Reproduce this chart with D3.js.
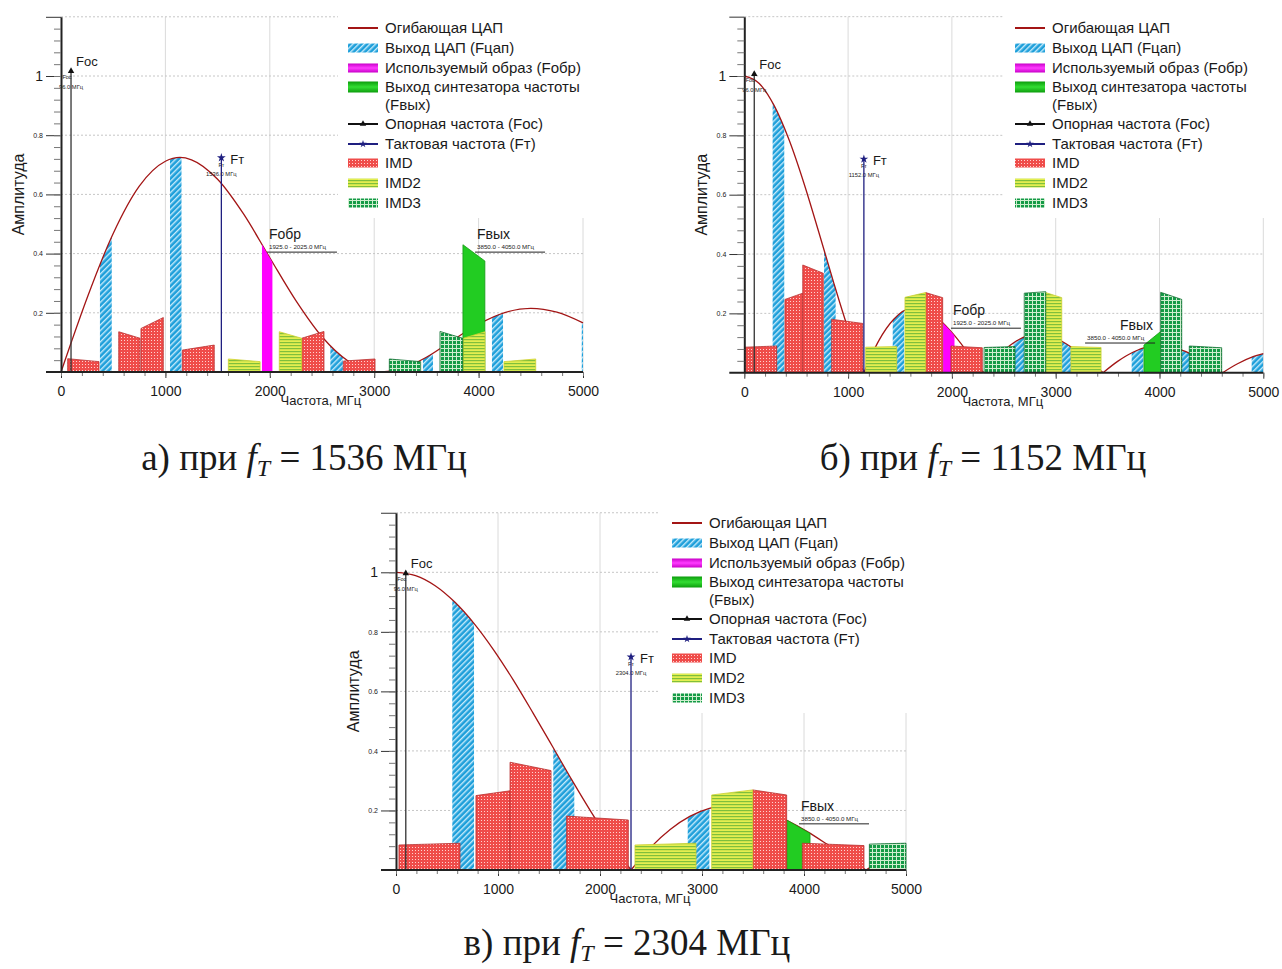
<!DOCTYPE html>
<html>
<head>
<meta charset="utf-8">
<script src="https://cdn.jsdelivr.net/npm/d3@7"></script>
<style>
body { margin: 0; background: #fff; }
svg { display: block; }
text { font-family: "Liberation Sans", Arial, sans-serif; fill: #1a1a1a; }
</style>
</head>
<body>
<svg id="chart" width="1282" height="969"></svg>
<script>
// ---- data (frequency in MHz, amplitude 0..1) ----
var xTicks = [0, 1000, 2000, 3000, 4000, 5000];
var yTicks = [0.2, 0.4, 0.6, 0.8, 1, 1.2];

var legendLabels = ["Огибающая ЦАП", "Выход ЦАП (Fцап)", "Используемый образ (Fобр)",
    "Выход синтезатора частоты|(Fвых)", "Опорная частота (Fос)", "Тактовая частота (Fт)",
    "IMD", "IMD2", "IMD3"];

var captionLetters = ["а)", "б)", "в)"];
var clockMHz = [1536, 1152, 2304];
var refMHz = 96;
var refLevel = [1.02, 1.01, 1.0];
var clockLevel = [0.724, 0.72, 0.716];

// DAC envelope, one array per lobe: [MHz, amplitude]
var envelopeA = [
    [[0, 0], [100, 0.102], [250, 0.250], [500, 0.468], [750, 0.628], [1000, 0.712], [1140, 0.725],
     [1250, 0.717], [1500, 0.651], [1750, 0.533], [2000, 0.386], [2250, 0.241], [2500, 0.119],
     [2750, 0.037], [2900, 0.010], [3072, 0]],
    [[3072, 0], [3250, 0.010], [3500, 0.050], [3750, 0.107], [4000, 0.162], [4250, 0.201],
     [4500, 0.215], [4750, 0.202], [5000, 0.166]]
];
var envelopeB = [
    [[0, 1], [144, 0.975], [288, 0.900], [432, 0.784], [576, 0.637], [720, 0.471], [864, 0.300], [1008, 0.139], [1152, 0]],
    [[1152, 0], [1296, 0.108], [1440, 0.180], [1584, 0.214], [1728, 0.212], [1872, 0.181], [2016, 0.129], [2160, 0.065], [2304, 0]],
    [[2304, 0], [2448, 0.057], [2592, 0.100], [2736, 0.124], [2880, 0.127], [3024, 0.112], [3168, 0.082], [3312, 0.042], [3456, 0]],
    [[3456, 0], [3600, 0.039], [3744, 0.069], [3888, 0.087], [4032, 0.091], [4176, 0.081], [4320, 0.060], [4464, 0.031], [4608, 0]],
    [[4608, 0], [4752, 0.030], [4896, 0.053], [5000, 0.064]]
];
var envelopeC = [
    [[0, 1], [192, 0.989], [384, 0.955], [576, 0.900], [768, 0.827], [960, 0.738], [1152, 0.637], [1344, 0.527],
     [1536, 0.414], [1728, 0.300], [1920, 0.191], [2112, 0.090], [2304, 0]],
    [[2304, 0], [2496, 0.076], [2688, 0.136], [2880, 0.180], [3072, 0.207], [3264, 0.217], [3456, 0.212],
     [3648, 0.194], [3840, 0.165], [4032, 0.129], [4224, 0.087], [4416, 0.043], [4608, 0]],
    [[4608, 0], [4800, 0.040], [5000, 0.075]]
];

// bands under the envelope: [from, to]
var dacA = [[373, 486], [1044, 1154], [2580, 2700], [3467, 3563], [4128, 4234], [4988, 5000]];
var dacB = [[273, 385], [768, 880], [1430, 1540], [2592, 2697], [3058, 3154], [3732, 3844], [4214, 4294], [4888, 5000]];
var dacC = [[552, 765], [1542, 1748], [2860, 3072]];
var imageA = [[1925, 2025]];
var imageB = [[1915, 2025]];
var imageC = [];

// blocks: [from, to, level at from, level at to]
var foutA = [[3850, 4060, 0.43, 0.375]];
var foutB = [[3850, 4050, 0.093, 0.15]];
var foutC = [[3830, 4059, 0.168, 0.123]];

var imdA = [[64, 364, 0.045, 0.035], [553, 757, 0.136, 0.114], [766, 980, 0.147, 0.184],
    [1162, 1468, 0.074, 0.091], [2305, 2519, 0.114, 0.137], [2704, 3008, 0.037, 0.044]];
var imd2A = [[1603, 1907, 0.044, 0.035], [2091, 2305, 0.136, 0.114], [3853, 4061, 0.114, 0.136], [4243, 4547, 0.035, 0.044]];
var imd3A = [[3145, 3445, 0.044, 0.035], [3630, 3848, 0.137, 0.114]];

var imdB = [[7, 312, 0.086, 0.09], [392, 563, 0.247, 0.268], [563, 761, 0.363, 0.335],
    [842, 1141, 0.18, 0.166], [1747, 1911, 0.27, 0.253], [1991, 2293, 0.09, 0.084]];
var imd2B = [[1169, 1468, 0.086, 0.088], [1548, 1747, 0.254, 0.27], [2904, 3058, 0.27, 0.253], [3147, 3437, 0.088, 0.085]];
var imd3B = [[2310, 2608, 0.085, 0.088], [2697, 2904, 0.268, 0.273], [4011, 4214, 0.271, 0.247], [4287, 4599, 0.09, 0.084]];

var imdC = [[29, 627, 0.084, 0.09], [784, 1118, 0.25, 0.266], [1118, 1520, 0.362, 0.334],
    [1673, 2278, 0.181, 0.168], [3497, 3830, 0.269, 0.252], [3984, 4588, 0.09, 0.082]];
var imd2C = [[2343, 2941, 0.084, 0.09], [3095, 3497, 0.252, 0.269]];
var imd3C = [[4641, 5000, 0.087, 0.09]];

// ---- layout ----
var panels = [
    {id: "a", x0: 61, x1: 583, base: 372, unit: 296, legend: [348, 28], box: [338, 0, 262, 218],
     env: envelopeA, dac: dacA, image: imageA, fout: foutA, imd: imdA, imd2: imd2A, imd3: imd3A,
     notes: [{t: "Fобр", r: "1925.0 - 2025.0 МГц", f: 1973, a: 0.405},
             {t: "Fвых", r: "3850.0 - 4050.0 МГц", f: 3966, a: 0.405}],
     caption: [304, 470]},
    {id: "b", x0: 744.3, x1: 1263.3, base: 372.7, unit: 296.7, legend: [1015, 28], box: [1003, 0, 279, 218],
     env: envelopeB, dac: dacB, image: imageB, fout: foutB, imd: imdB, imd2: imd2B, imd3: imd3B,
     notes: [{t: "Fобр", r: "1925.0 - 2025.0 МГц", f: 1991, a: 0.15},
             {t: "Fвых", r: "3850.0 - 4050.0 МГц", f: 3283, a: 0.10, end: true}],
     caption: [983, 470]},
    {id: "c", x0: 396, x1: 906, base: 870, unit: 297.7, legend: [672, 523], box: [658, 505, 257, 208],
     env: envelopeC, dac: dacC, image: imageC, fout: foutC, imd: imdC, imd2: imd2C, imd3: imd3C,
     notes: [{t: "Fвых", r: "3850.0 - 4050.0 МГц", f: 3951, a: 0.155}],
     caption: [627, 955]}
];

var svg = d3.select("#chart");
var defs = svg.append("defs");

// fills
function pattern(id, w, h, bg, parts, rot) {
    var p = defs.append("pattern").attr("id", id).attr("patternUnits", "userSpaceOnUse")
        .attr("width", w).attr("height", h);
    if (rot) p.attr("patternTransform", "rotate(" + rot + ")");
    p.append("rect").attr("width", w).attr("height", h).attr("fill", bg);
    parts.forEach(function (r) {
        p.append("rect").attr("x", r[0]).attr("y", r[1]).attr("width", r[2]).attr("height", r[3]).attr("fill", r[4]);
    });
}
pattern("pDac", 4, 4, "#1e9fda", [[0, 0, 1.4, 4, "#c6ebfb"]], 45);
pattern("pImd", 3, 3, "#ef4c4a", [[1, 1, 1, 1, "#ffd2d0"]]);
pattern("pImd2", 4, 3, "#e4ee50", [[0, 0, 4, 1.2, "#7fbf3c"]]);
pattern("pImd3", 4, 4, "#149a46", [[0, 0, 1, 4, "#cfeecf"], [0, 0, 4, 1, "#cfeecf"]]);

function grad(id, c1, c2) {
    var g = defs.append("linearGradient").attr("id", id).attr("x1", 0).attr("y1", 0).attr("x2", 0).attr("y2", 1);
    g.append("stop").attr("offset", "0%").attr("stop-color", c1);
    g.append("stop").attr("offset", "50%").attr("stop-color", c2);
    g.append("stop").attr("offset", "100%").attr("stop-color", c1);
}
grad("gImage", "#c800c8", "#ff3cff");
grad("gFout", "#0c9c0c", "#33dd33");

var envColor = "#a31515";
var clockColor = "#1f1f80";

function drawPanel(p, pi) {
    var g = svg.append("g");
    var x = d3.scaleLinear().domain([0, 5000]).range([p.x0, p.x1]);
    var y = d3.scaleLinear().domain([0, 1.2]).range([p.base, p.base - 1.2 * p.unit]);
    var top = y(1.2);

    // grid
    g.append("g").selectAll("line").data(xTicks.slice(1)).join("line")
        .attr("x1", x).attr("x2", x).attr("y1", p.base).attr("y2", top)
        .attr("stroke", "#dadada");
    g.append("g").selectAll("line").data(yTicks).join("line")
        .attr("x1", p.x0).attr("x2", p.x1).attr("y1", y).attr("y2", y)
        .attr("stroke", "#c6c6c6").attr("stroke-dasharray", "2,2");

    // legend background hides the grid
    g.append("rect").attr("x", p.box[0]).attr("y", p.box[1]).attr("width", p.box[2]).attr("height", p.box[3])
        .attr("fill", "#fff");

    var area = d3.area().x(function (d) { return x(d[0]); }).y0(y(0))
        .y1(function (d) { return y(d[1]); }).curve(d3.curveMonotoneX);
    var envLine = d3.line().x(function (d) { return x(d[0]); })
        .y(function (d) { return y(d[1]); }).curve(d3.curveMonotoneX);
    var blockLine = d3.line().x(function (d) { return x(d[0]); }).y(function (d) { return y(d[1]); });

    function bands(list, fill, name) {
        list.forEach(function (b, i) {
            var id = "clip-" + p.id + "-" + name + "-" + i;
            defs.append("clipPath").attr("id", id).append("rect")
                .attr("x", x(b[0])).attr("width", x(b[1]) - x(b[0]))
                .attr("y", top).attr("height", p.base - top);
            g.append("g").attr("clip-path", "url(#" + id + ")")
                .selectAll("path").data(p.env).join("path")
                .attr("d", area).attr("fill", fill);
        });
    }
    function blocks(list, fill, stroke) {
        g.append("g").selectAll("path").data(list).join("path")
            .attr("d", function (b) { return blockLine([[b[0], 0], [b[0], b[2]], [b[1], b[3]], [b[1], 0]]) + "Z"; })
            .attr("fill", fill).attr("stroke", stroke).attr("stroke-width", 0.8);
    }

    bands(p.dac, "url(#pDac)", "dac");
    g.append("g").selectAll("path").data(p.env).join("path")
        .attr("d", envLine).attr("fill", "none").attr("stroke", envColor).attr("stroke-width", 1.3);
    bands(p.image, "#ff00ff", "img");
    blocks(p.fout, "#22cc22", "#159a15");
    blocks(p.imd, "url(#pImd)", "#b83030");
    blocks(p.imd2, "url(#pImd2)", "#cdd030");
    blocks(p.imd3, "url(#pImd3)", "#0e6e30");

    // reference (Fос) and clock (Fт) markers
    var rx = x(refMHz), ry = y(refLevel[pi]);
    g.append("text").attr("x", rx - 4).attr("y", ry + 9).attr("text-anchor", "middle")
        .style("font-size", "5.5px").text("Fос");
    g.append("text").attr("x", rx).attr("y", ry + 19).attr("text-anchor", "middle")
        .style("font-size", "5.8px").text(refMHz.toFixed(1) + " МГц");
    g.append("line").attr("x1", rx).attr("x2", rx).attr("y1", y(0)).attr("y2", ry)
        .attr("stroke", "#333").attr("stroke-width", 1.3);
    g.append("path").attr("d", d3.symbol(d3.symbolTriangle, 18)()).attr("transform", "translate(" + rx + "," + (ry + 1) + ")")
        .attr("fill", "#111");
    g.append("text").attr("x", rx + 5).attr("y", ry - 4).style("font-size", "13px").text("Fос");

    var cx = x(clockMHz[pi]), cy = y(clockLevel[pi]);
    g.append("text").attr("x", cx).attr("y", cy + 9).attr("text-anchor", "middle")
        .style("font-size", "5.5px").text("Fт");
    g.append("text").attr("x", cx).attr("y", cy + 18).attr("text-anchor", "middle")
        .style("font-size", "5.8px").text(clockMHz[pi].toFixed(1) + " МГц");
    g.append("line").attr("x1", cx).attr("x2", cx).attr("y1", y(0)).attr("y2", cy)
        .attr("stroke", clockColor).attr("stroke-width", 1.3);
    g.append("path").attr("d", d3.symbol(d3.symbolStar, 24)()).attr("transform", "translate(" + cx + "," + cy + ")")
        .attr("fill", clockColor);
    g.append("text").attr("x", cx + 9).attr("y", cy + 6).style("font-size", "13px").text("Fт");

    // band annotations
    p.notes.forEach(function (n) {
        var nx = x(n.f), ny = y(n.a);
        g.append("line").attr("x1", nx).attr("x2", nx + 70).attr("y1", ny).attr("y2", ny)
            .attr("stroke", "#222").attr("stroke-width", 1);
        g.append("text").attr("x", nx + 2).attr("y", ny - 3).style("font-size", "6.2px").text(n.r);
        g.append("text").attr("x", n.end ? nx + 68 : nx + 2).attr("y", ny - 13)
            .attr("text-anchor", n.end ? "end" : "start").style("font-size", "14px").text(n.t);
    });

    // axes
    var yAxis = g.append("g").attr("transform", "translate(" + p.x0 + ",0)")
        .call(d3.axisLeft(y).tickValues(yTicks).tickSize(15).tickSizeOuter(0).tickPadding(3)
            .tickFormat(function (d) { return d === 1.2 ? "" : d3.format("~g")(d); }));
    yAxis.select(".domain").attr("stroke", "#222").attr("stroke-width", 2);
    yAxis.selectAll(".tick line").attr("stroke", "#333");
    yAxis.selectAll(".tick text").style("font-size", function (d) { return d === 1 ? "14px" : "7px"; })
        .attr("fill", "#1a1a1a");
    var yMinor = g.append("g").attr("transform", "translate(" + p.x0 + ",0)")
        .call(d3.axisLeft(y).tickValues(d3.range(0.04, 1.2, 0.04)).tickSize(7).tickFormat(""));
    yMinor.select(".domain").remove();
    yMinor.selectAll(".tick line").attr("stroke", "#777");

    var xAxis = g.append("g").attr("transform", "translate(0," + p.base + ")")
        .call(d3.axisBottom(x).tickValues(xTicks).tickSize(6).tickSizeOuter(0).tickPadding(8)
            .tickFormat(d3.format("d")));
    xAxis.select(".domain").remove();
    xAxis.selectAll(".tick line").attr("stroke", "#333");
    xAxis.selectAll(".tick text").style("font-size", "14px").attr("fill", "#1a1a1a");
    var xMinor = g.append("g").attr("transform", "translate(0," + p.base + ")")
        .call(d3.axisBottom(x).tickValues(x.ticks(25)).tickSize(4).tickFormat(""));
    xMinor.select(".domain").remove();
    xMinor.selectAll(".tick line").attr("stroke", "#777");
    g.append("line").attr("x1", p.x0 - 15).attr("x2", p.x1).attr("y1", p.base).attr("y2", p.base)
        .attr("stroke", "#222").attr("stroke-width", 2);

    g.append("text").attr("transform", "translate(" + (p.x0 - 37) + "," + (p.base - 0.6 * p.unit) + ") rotate(-90)")
        .attr("text-anchor", "middle").style("font-size", "16px").text("Амплитуда");
    g.append("text").attr("x", x(2490)).attr("y", p.base + 33).attr("text-anchor", "middle")
        .style("font-size", "13px").text("Частота, МГц");

    drawLegend(p.legend[0], p.legend[1]);

    // caption under the chart
    var cap = svg.append("text").attr("x", p.caption[0]).attr("y", p.caption[1]).attr("text-anchor", "middle")
        .style("font-family", "'Liberation Serif', 'Times New Roman', serif").style("font-size", "37px");
    cap.append("tspan").text(captionLetters[pi] + " при ");
    cap.append("tspan").attr("font-style", "italic").text("f");
    cap.append("tspan").attr("font-style", "italic").style("font-size", "24px").attr("dy", 6).text("T");
    cap.append("tspan").attr("dy", -6).text(" = " + clockMHz[pi] + " МГц");
}

var legendRows = [0, 20, 40, 59, 96, 116, 135, 155, 175];

function drawLegend(lx, ly) {
    var g = svg.append("g");
    legendLabels.forEach(function (label, i) {
        var yy = ly + legendRows[i];
        if (i === 0) {
            g.append("line").attr("x1", lx).attr("x2", lx + 30).attr("y1", yy).attr("y2", yy)
                .attr("stroke", envColor).attr("stroke-width", 2);
        } else if (i === 4 || i === 5) {
            var c = i === 4 ? "#111" : clockColor;
            g.append("line").attr("x1", lx).attr("x2", lx + 30).attr("y1", yy).attr("y2", yy)
                .attr("stroke", c).attr("stroke-width", 2);
            g.append("path").attr("d", d3.symbol(i === 4 ? d3.symbolTriangle : d3.symbolStar, 18)())
                .attr("transform", "translate(" + (lx + 15) + "," + yy + ")").attr("fill", c);
        } else {
            var fills = {1: "url(#pDac)", 2: "url(#gImage)", 3: "url(#gFout)", 6: "url(#pImd)", 7: "url(#pImd2)", 8: "url(#pImd3)"};
            var h = i === 3 ? 11 : 9;
            g.append("rect").attr("x", lx).attr("y", yy - h / 2).attr("width", 30).attr("height", h)
                .attr("fill", fills[i]);
        }
        label.split("|").forEach(function (part, k) {
            g.append("text").attr("x", lx + 37).attr("y", yy + 5 + k * 18)
                .style("font-size", "15px").text(part);
        });
    });
}

panels.forEach(drawPanel);
</script>
</body>
</html>
